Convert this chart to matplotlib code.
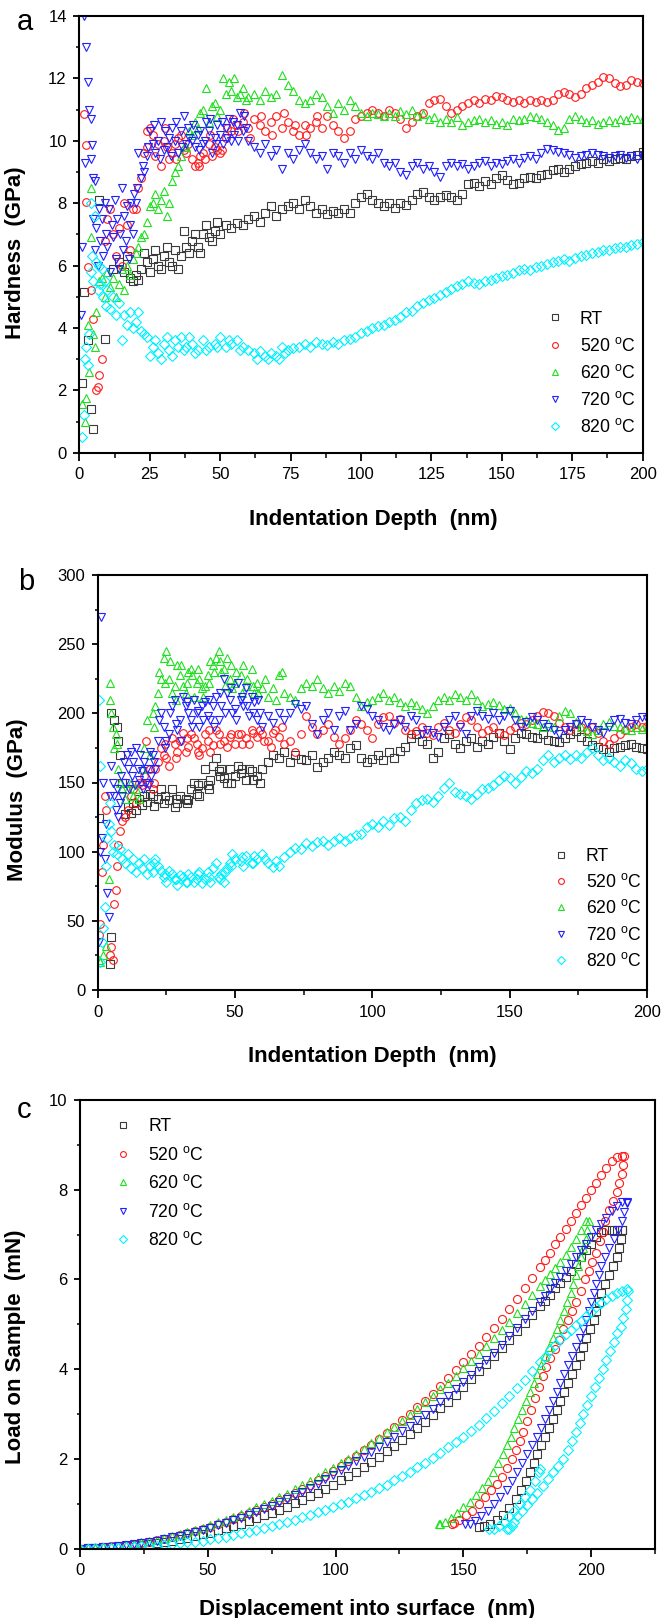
import matplotlib
matplotlib.use('Agg')
import matplotlib.pyplot as plt
from matplotlib.ticker import MultipleLocator

plt.rcParams['font.family'] = ['Liberation Sans', 'DejaVu Sans']
plt.rcParams['mathtext.fontset'] = 'custom'
plt.rcParams['mathtext.rm'] = 'Liberation Sans'
plt.rcParams['mathtext.it'] = 'Liberation Sans:italic'
plt.rcParams['mathtext.bf'] = 'Liberation Sans:bold'

# ---------------- series ----------------
labels = ['RT', '520 $^{\\mathrm{o}}$C', '620 $^{\\mathrm{o}}$C', '720 $^{\\mathrm{o}}$C', '820 $^{\\mathrm{o}}$C']
colors = ['#3a3a3a', '#ff1a1a', '#1ee01e', '#2020ff', '#00f0ff']
markers = ['s', 'o', '^', 'v', 'D']

# ---------------- panel a : hardness ----------------
depth_grid = [20, 22, 24, 26, 28, 30, 32, 34, 36, 38,
              40, 42, 44, 46, 48, 50, 52, 54, 56, 58,
              60, 62, 64, 66, 68, 70, 72, 74, 76, 78,
              80, 82, 84, 86, 88, 90, 92, 94, 96, 98,
              100, 102, 104, 106, 108, 110, 112, 114, 116, 118,
              120, 122, 124, 126, 128, 130, 132, 134, 136, 138,
              140, 142, 144, 146, 148, 150, 152, 154, 156, 158,
              160, 162, 164, 166, 168, 170, 172, 174, 176, 178,
              180, 182, 184, 186, 188, 190, 192, 194, 196, 198,
              200]

hard_rt = [5.7, 5.9, 6.1, 6.2, 6.0, 6.3, 6.1, 6.5, 6.3, 6.6,
           6.8, 6.6, 7.0, 6.9, 7.1, 7.0, 7.3, 7.2, 7.35, 7.3,
           7.5, 7.6, 7.4, 7.7, 7.9, 7.6, 7.8, 7.9, 8.0, 7.8,
           8.1, 7.9, 7.7, 7.8, 7.65, 7.75, 7.7, 7.8, 7.7, 8.0,
           8.2, 8.3, 8.1, 8.0, 7.9, 8.0, 7.85, 8.0, 7.95, 8.1,
           8.3, 8.35, 8.2, 8.1, 8.2, 8.25, 8.2, 8.1, 8.3, 8.6,
           8.65, 8.55, 8.7, 8.6, 8.8, 8.9, 8.75, 8.6, 8.65, 8.8,
           8.85, 8.8, 8.9, 8.95, 9.05, 9.1, 9.0, 9.1, 9.2, 9.25,
           9.3, 9.35, 9.3, 9.4, 9.35, 9.4, 9.45, 9.4, 9.5, 9.55,
           9.65]
hard_520 = [7.8, 8.8, 9.8, 10.2, 9.9, 10.0, 9.4, 9.9, 10.2, 9.6,
            9.4, 9.3, 9.6, 9.9, 9.8, 9.6, 10.1, 10.3, 10.5, 10.6,
            10.4, 10.7, 10.5, 10.3, 10.6, 10.8, 10.4, 10.6, 10.3, 10.2,
            10.5, 10.4, 10.6, 10.4, 10.8, 10.5, 10.3, 10.1, 10.3, 10.7,
            10.8, 10.9, 11.0, 10.9, 10.8, 11.0, 10.9, 10.7, 10.4, 10.6,
            10.8, 10.9, 11.2, 11.3, 11.35, 11.1, 10.9, 11.0, 11.1, 11.2,
            11.3, 11.2, 11.35, 11.3, 11.45, 11.4, 11.3, 11.25, 11.3, 11.2,
            11.3, 11.25, 11.3, 11.25, 11.3, 11.5, 11.55, 11.5, 11.4, 11.5,
            11.7, 11.8, 11.9, 12.05, 12.0, 11.85, 11.75, 11.8, 11.95, 11.9,
            11.85]
hard_620 = [6.4, 6.9, 7.4, 8.0, 7.8, 8.4, 8.0, 9.0, 9.5, 9.8,
            10.2, 10.4, 11.0, 10.6, 11.2, 11.0, 11.5, 11.6, 11.4, 11.7,
            11.4, 11.5, 11.3, 11.6, 11.4, 11.5, 12.1, 11.8, 11.6, 11.3,
            11.2, 11.3, 11.5, 11.4, 11.1, 10.9, 11.2, 11.0, 11.3, 11.1,
            10.9, 10.8, 10.9, 10.85, 10.8, 10.9, 10.8, 10.95, 10.85, 11.0,
            10.8, 10.85, 10.7, 10.75, 10.6, 10.7, 10.6, 10.75, 10.5, 10.6,
            10.65, 10.7, 10.6, 10.65, 10.55, 10.6, 10.5, 10.7, 10.65, 10.7,
            10.8, 10.75, 10.7, 10.6, 10.5, 10.35, 10.4, 10.7, 10.8, 10.7,
            10.6, 10.65, 10.55, 10.6, 10.65, 10.6, 10.7, 10.65, 10.75, 10.7,
            10.7]
hard_720 = [8.0, 8.8, 9.5, 9.9, 10.0, 9.7, 10.1, 10.0, 10.3, 9.9,
            10.0, 10.2, 9.9, 10.3, 10.1, 10.2, 10.4, 10.0, 10.5, 10.3,
            10.0, 9.8, 9.6, 9.9, 9.5, 9.7, 9.1, 9.6, 9.4, 9.7,
            9.9, 9.6, 9.4, 9.5, 9.1, 9.6, 9.5, 9.3, 9.6, 9.4,
            9.7, 9.5, 9.4, 9.6, 9.3, 9.2, 9.3, 9.0, 8.9, 9.2,
            9.3, 9.1, 9.2, 9.0, 8.85, 9.2, 9.3, 9.2, 9.25, 9.1,
            9.2, 9.3, 9.35, 9.2, 9.3, 9.25, 9.35, 9.4, 9.3, 9.45,
            9.5, 9.4, 9.6, 9.75, 9.7, 9.65, 9.6, 9.55, 9.45, 9.5,
            9.55, 9.6, 9.55, 9.5, 9.45, 9.5, 9.55, 9.45, 9.5, 9.4,
            9.5]
hard_820 = [4.2, 3.9, 3.7, 3.4, 3.2, 3.5, 3.3, 3.6, 3.7, 3.4,
            3.5, 3.3, 3.6, 3.4, 3.5, 3.7, 3.4, 3.5, 3.6, 3.4,
            3.3, 3.2, 3.25, 3.1, 3.2, 3.1, 3.4, 3.3, 3.35, 3.4,
            3.5, 3.4, 3.55, 3.5, 3.45, 3.55, 3.5, 3.6, 3.65, 3.7,
            3.85, 3.9, 4.0, 4.05, 4.1, 4.2, 4.25, 4.35, 4.5, 4.55,
            4.7, 4.8, 4.9, 4.95, 5.05, 5.15, 5.25, 5.35, 5.4, 5.5,
            5.45, 5.4, 5.5, 5.55, 5.6, 5.65, 5.7, 5.75, 5.85, 5.9,
            5.85, 5.95, 6.0, 6.05, 6.1, 6.15, 6.2, 6.15, 6.25, 6.3,
            6.35, 6.4, 6.45, 6.5, 6.5, 6.55, 6.6, 6.6, 6.65, 6.7,
            6.75]

# shallow-depth / extra scattered points (depth, hardness)
hard_rt_extra = [(1, 2.25), (1.5, 5.15), (3, 3.6), (4, 1.4), (5, 0.75), (7, 8.1), (9, 3.65),
                 (12, 5.9), (14, 6.1), (16, 5.8), (17, 6.3), (18, 5.6), (19, 5.5),
                 (21, 5.55), (23, 6.4), (25, 5.8), (27, 6.5), (29, 5.9), (31, 6.6), (33, 6.0),
                 (35, 5.9), (37, 7.1), (39, 6.4), (41, 7.0), (43, 6.4), (45, 7.3), (47, 6.8), (49, 7.4)]
hard_520_extra = [(1.5, 10.85), (2.5, 9.85), (2.5, 8.05), (3, 5.95), (4, 5.2), (5, 4.3), (6, 2.0),
                  (6.5, 2.1), (7, 2.5), (8, 3.0), (9, 6.8), (10, 7.5), (11, 7.8), (12, 7.0),
                  (13, 6.3), (14, 7.2), (15, 6.0), (16, 8.0), (17, 7.3), (18, 6.5), (19, 7.8),
                  (21, 8.5), (23, 9.6), (24, 10.3), (25, 10.4), (27, 9.5), (29, 9.2), (31, 9.8),
                  (33, 9.6), (35, 10.1), (37, 9.7), (41, 9.2), (43, 9.5), (47, 9.5), (49, 9.7),
                  (30.5, 10.4), (34.5, 9.4), (38.5, 9.9), (42.5, 9.2), (44.5, 9.4), (46.5, 10.2),
                  (50.5, 9.7), (52.5, 10.4), (54.5, 10.7), (56.5, 10.3), (58.5, 10.9), (60.5, 10.1),
                  (64.5, 10.8), (68.5, 10.2), (72.5, 10.9), (76.5, 10.5), (80.5, 10.2), (84.5, 10.8)]
hard_620_extra = [(1, 1.55), (2, 1.0), (2.5, 1.75), (3, 4.1), (3.5, 2.6), (4, 6.9), (4, 8.5),
                  (5, 3.8), (5.5, 3.4), (6, 4.5), (7, 5.5), (8, 5.6), (9, 5.0), (10, 5.8),
                  (11, 5.3), (12, 5.6), (13, 5.0), (14, 5.4), (15, 5.9), (16, 5.2), (17, 6.0),
                  (18, 5.7), (19, 6.2), (21, 6.6), (23, 7.0), (25, 7.9), (27, 8.3), (29, 8.1),
                  (31, 7.6), (33, 8.7), (35, 9.2), (37, 9.8), (39, 10.3), (41, 10.6), (43, 10.9),
                  (45, 11.7), (47, 11.1), (49, 10.8), (51, 12.0), (53, 11.9), (55, 12.0),
                  (57, 11.5), (59, 11.3)]
hard_720_extra = [(0.5, 4.4), (1, 6.6), (1.5, 14.0), (2, 9.3), (2.5, 13.0), (3, 11.9), (3.5, 11.0),
                  (4, 9.4), (4, 10.7), (4.5, 9.85), (5, 8.8), (5.5, 8.7), (5, 7.5), (5.5, 6.5),
                  (6, 7.2), (6.5, 6.0), (7, 7.8), (7.5, 6.8), (8, 7.5), (8.5, 6.3), (9, 8.0),
                  (9.5, 7.0), (10, 6.6), (10.5, 7.8), (11, 5.8), (11.5, 7.3), (12, 6.9),
                  (12.5, 8.1), (13, 6.2), (13.5, 7.5), (14, 5.9), (14.5, 7.0), (15, 8.5),
                  (15.5, 6.5), (16, 7.6), (16.5, 6.8), (17, 7.9), (17.5, 6.2), (18, 7.3),
                  (18.5, 8.0), (19, 7.0), (19.5, 8.3), (21, 9.6), (23, 9.0), (25, 10.3),
                  (27, 9.6), (29, 10.6), (31, 9.8), (33, 10.4), (35, 9.6), (37, 10.8), (39, 10.1),
                  (41, 9.8), (43, 10.3), (45, 10.6), (47, 9.6), (49, 10.5), (51, 9.9), (53, 10.7),
                  (55, 10.2), (57, 10.9), (59, 10.4),
                  (20.5, 8.5), (22.5, 9.2), (24.5, 9.8), (26.5, 10.5), (28.5, 9.4), (30.5, 10.3),
                  (32.5, 9.5), (34.5, 10.6), (36.5, 9.8), (38.5, 10.4), (40.5, 10.5), (42.5, 9.7),
                  (44.5, 10.0), (46.5, 10.7), (48.5, 9.9), (50.5, 10.6), (52.5, 10.1), (54.5, 10.6),
                  (56.5, 10.0), (58.5, 10.8)]
hard_820_extra = [(1, 0.5), (1.5, 1.2), (2, 3.0), (2.5, 3.4), (3, 2.8), (3.5, 3.8), (4, 5.8),
                  (4, 8.0), (4.5, 6.3), (5, 5.5), (5.5, 7.6), (6, 6.1), (6.5, 5.2), (7, 6.0),
                  (7.5, 5.4), (8, 5.9), (8.5, 5.0), (9, 5.5), (9.5, 4.7), (10, 5.2), (11, 4.6),
                  (12, 5.0), (13, 4.4), (14, 4.8), (15, 3.6), (16, 4.4), (17, 4.1), (18, 4.5),
                  (19, 4.0), (21, 4.5), (23, 3.8), (25, 3.1), (27, 3.6), (29, 3.0), (31, 3.7),
                  (33, 3.1), (35, 3.4), (37, 3.3), (39, 3.7), (41, 3.2), (45, 3.3), (49, 3.4),
                  (53, 3.6), (57, 3.3), (63, 3.0), (67, 3.0), (71, 3.0), (73, 3.2)]

# ---------------- panel b : modulus ----------------
mod_rt = [140, 138, 135, 137, 132, 140, 138, 145, 142, 150,
          148, 162, 158, 153, 160, 155, 157, 152, 158, 155,
          160, 165, 170, 168, 172, 165, 170, 167, 166, 170,
          161, 165, 168, 172, 170, 168, 175, 177, 168, 165,
          167, 170, 166, 172, 168, 173, 176, 182, 185, 180,
          178, 168, 172, 182, 185, 178, 175, 180, 182, 176,
          180, 178, 183, 186, 180, 174, 182, 186, 185, 183,
          182, 185, 181, 180, 179, 182, 185, 187, 183, 180,
          177, 176, 174, 172, 175, 176, 177, 178, 176, 175,
          174]
mod_520 = [145, 165, 170, 162, 178, 180, 172, 185, 178, 175,
           180, 177, 185, 180, 183, 178, 185, 182, 188, 183,
           185, 180, 186, 183, 178, 180, 172, 185, 198, 190,
           185, 188, 192, 183, 178, 182, 188, 195, 192, 188,
           182, 192, 197, 198, 193, 196, 188, 185, 187, 190,
           186, 184, 190, 193, 188, 186, 192, 197, 195, 190,
           186, 188, 190, 186, 184, 188, 190, 193, 192, 195,
           198, 201, 200, 198, 193, 190, 188, 192, 190, 188,
           190, 186, 180, 178, 182, 185, 188, 190, 192, 190,
           191]
mod_620 = [200, 215, 240, 225, 220, 228, 215, 232, 222, 218,
           228, 235, 245, 232, 225, 222, 228, 220, 232, 222,
           218, 212, 218, 228, 215, 212, 210, 218, 222, 220,
           225, 218, 215, 220, 216, 222, 220, 212, 205, 208,
           210, 212, 215, 210, 212, 208, 205, 208, 206, 203,
           200, 205, 210, 212, 210, 214, 212, 210, 214, 210,
           205, 207, 208, 206, 203, 204, 200, 196, 195, 193,
           192, 190, 193, 190, 198, 202, 200, 194, 190, 187,
           185, 188, 192, 194, 191, 190, 189, 188, 190, 189,
           190]
mod_720 = [170, 180, 190, 185, 210, 195, 205, 195, 200, 205,
           198, 205, 195, 225, 210, 203, 210, 218, 212, 195,
           190, 198, 193, 200, 195, 200, 207, 203, 205, 192,
           185, 195, 200, 188, 198, 202, 188, 192, 205, 203,
           198, 195, 190, 188, 192, 195, 190, 198, 195, 185,
           188, 186, 183, 190, 195, 198, 190, 185, 198, 202,
           198, 196, 200, 195, 198, 202, 195, 190, 194, 197,
           195, 192, 190, 188, 185, 188, 190, 192, 195, 193,
           190, 188, 186, 190, 195, 196, 193, 192, 195, 197,
           196]
mod_820 = [85, 90, 82, 86, 80, 83, 78, 82, 80, 77,
           85, 88, 82, 78, 92, 95, 93, 97, 92, 95,
           98, 92, 89, 90, 96, 100, 103, 102, 106, 104,
           107, 108, 105, 108, 110, 108, 110, 112, 113, 118,
           120, 118, 122, 119, 124, 125, 122, 130, 135, 137,
           138, 136, 140, 146, 150, 143, 142, 140, 138, 142,
           145, 146, 148, 152, 155, 153, 150, 154, 158, 157,
           160, 166, 170, 165, 168, 170, 167, 170, 168, 172,
           175, 170, 166, 168, 165, 162, 166, 164, 160, 158,
           160]

mod_rt_extra = [(0.5, 124), (4.5, 19), (5, 38), (5, 200), (6, 195), (7, 190), (7.5, 180), (8, 170),
                (9, 150), (10, 127), (11, 132), (12, 128), (13, 135), (14, 130), (15, 138),
                (16, 134), (17, 140), (18, 136), (19, 142), (23, 145), (27, 145), (29, 135),
                (33, 137), (35, 150), (37, 140), (39, 160), (41, 152), (43, 168), (45, 160),
                (47, 150), (51, 162), (55, 160), (59, 150),
                (20.5, 133), (24.5, 140), (28.5, 138), (32.5, 135), (36.5, 148), (40.5, 145),
                (44.5, 155), (48.5, 150), (52.5, 160), (56.5, 152)]
mod_520_extra = [(0.5, 40), (1, 48), (1.5, 85), (2, 105), (2.5, 140), (3, 130), (4.5, 25), (5, 31),
                 (5.5, 22), (6, 62), (6.5, 72), (7, 90), (7.5, 105), (8, 115), (9, 122), (10, 125),
                 (11, 130), (12, 140), (13, 145), (14, 135), (15, 150), (16, 148), (17, 155),
                 (17.5, 180), (18, 150), (19, 160), (21, 160), (23, 175), (25, 168), (27, 182),
                 (29, 172), (31, 186), (33, 176), (35, 182), (37, 170), (39, 185), (41, 172),
                 (43, 188), (47, 176), (51, 185), (55, 178), (59, 188), (63, 176), (67, 190),
                 (20.5, 150), (24.5, 178), (28.5, 168), (32.5, 182), (36.5, 172), (40.5, 188),
                 (44.5, 178), (48.5, 185), (52.5, 178), (56.5, 186), (60.5, 180), (64.5, 188)]
mod_620_extra = [(0.5, 22), (1, 20), (2, 25), (3, 32), (4, 80), (4.3, 210), (4.6, 222), (5, 200),
                 (5.5, 190), (6, 175), (6.5, 185), (7, 178), (7.5, 160), (8, 150), (9, 145),
                 (10, 138), (11, 145), (12, 150), (13, 140), (14, 145), (15, 138), (16, 160),
                 (17, 175), (18, 195), (19, 170), (21, 205), (23, 225), (25, 245), (27, 215),
                 (29, 235), (31, 220), (33, 230), (35, 212), (37, 225), (39, 220), (41, 238),
                 (43, 240), (45, 230), (47, 240), (49, 218), (53, 235), (57, 215), (61, 225),
                 (65, 210), (67, 230),
                 (20.5, 190), (22.5, 230), (24.5, 222), (26.5, 238), (28.5, 210), (30.5, 235),
                 (32.5, 222), (34.5, 228), (36.5, 232), (38.5, 212), (40.5, 222), (42.5, 230),
                 (44.5, 238), (46.5, 220), (48.5, 235), (50.5, 230), (52.5, 215), (54.5, 225),
                 (56.5, 220), (58.5, 215)]
mod_720_extra = [(0.5, 35), (1, 100), (1.2, 270), (1.5, 110), (2, 150), (2.5, 95), (3, 120),
                 (3.5, 70), (4, 53), (4.5, 140), (5, 162), (5.5, 150), (6, 140), (6.5, 130),
                 (7, 145), (7.5, 125), (8, 135), (8.5, 155), (9, 140), (9.5, 165), (10, 150),
                 (10.5, 170), (11, 160), (11.5, 145), (12, 172), (12.5, 155), (13, 165),
                 (13.5, 148), (14, 175), (14.5, 160), (15, 152), (15.5, 170), (16, 158),
                 (16.5, 145), (17, 165), (17.5, 150), (18, 160), (18.5, 148), (19, 172),
                 (19.5, 155), (21, 160), (23, 200), (25, 180), (27, 205), (29, 188), (31, 212),
                 (33, 200), (35, 210), (37, 190), (39, 208), (41, 195), (43, 212), (45, 205),
                 (47, 215), (49, 200), (51, 222), (53, 205), (55, 198), (57, 208), (59, 200),
                 (20.5, 165), (22.5, 195), (24.5, 175), (26.5, 200), (28.5, 192), (30.5, 180),
                 (32.5, 208), (34.5, 190), (36.5, 202), (38.5, 195), (40.5, 210), (42.5, 190),
                 (44.5, 215), (46.5, 200), (48.5, 218), (50.5, 195), (52.5, 212), (54.5, 205),
                 (56.5, 200), (58.5, 210)]
mod_820_extra = [(0.5, 210), (0.7, 162), (1, 20), (1.5, 35), (2, 45), (2.5, 60), (3, 90),
                 (3.5, 110), (4, 120), (4.5, 135), (5, 115), (5.5, 100), (6, 105), (7, 98),
                 (8, 102), (9, 95), (10, 92), (11, 98), (12, 88), (13, 95), (14, 85), (15, 92),
                 (16, 88), (17, 95), (18, 84), (19, 90), (21, 95), (23, 86), (25, 78), (27, 84),
                 (29, 76), (31, 82), (33, 84), (35, 78), (37, 85), (39, 80), (41, 78), (43, 92),
                 (45, 84), (47, 88), (49, 98), (53, 90), (57, 97), (61, 95), (65, 93),
                 (20.5, 92), (24.5, 84), (28.5, 80), (32.5, 78), (36.5, 84), (40.5, 82),
                 (44.5, 80), (46.5, 85), (48.5, 90), (52.5, 96), (56.5, 92)]

# ---------------- panel c : load-displacement ----------------
load_depth = [0, 3, 6, 9, 12, 15, 18, 21, 24, 27,
              30, 33, 36, 39, 42, 45, 48, 51, 54, 57,
              60, 63, 66, 69, 72, 75, 78, 81, 84, 87,
              90, 93, 96, 99, 102, 105, 108, 111, 114, 117,
              120, 123, 126, 129, 132, 135, 138, 141, 144, 147,
              150, 153, 156, 159, 162, 165, 168, 171, 174, 177,
              180, 182, 184, 186, 188, 190, 192, 194, 196, 198,
              200, 202, 204, 206, 208, 210, 212, 214]

load_rt = [0.0, 0.01, 0.02, 0.03, 0.04, 0.05, 0.06, 0.08, 0.09, 0.11,
           0.13, 0.15, 0.18, 0.21, 0.24, 0.28, 0.32, 0.36, 0.41, 0.46,
           0.51, 0.56, 0.62, 0.68, 0.74, 0.8, 0.87, 0.94, 1.01, 1.09,
           1.17, 1.25, 1.34, 1.43, 1.52, 1.62, 1.72, 1.83, 1.94, 2.05,
           2.17, 2.29, 2.42, 2.55, 2.69, 2.83, 2.98, 3.13, 3.27, 3.42,
           3.6, 3.78, 3.95, 4.12, 4.3, 4.48, 4.66, 4.85, 5.03, 5.2,
           5.4, 5.52, 5.65, 5.8, 5.92, 6.05, 6.2, 6.35, 6.5, 6.65,
           6.8, 6.95, 7.05, 7.1, 7.1, 7.1, 7.1]
load_520 = [0.0, 0.01, 0.02, 0.03, 0.05, 0.06, 0.08, 0.1, 0.13, 0.16,
            0.19, 0.22, 0.26, 0.3, 0.34, 0.39, 0.44, 0.49, 0.54, 0.6,
            0.66, 0.72, 0.79, 0.86, 0.93, 1.0, 1.08, 1.16, 1.25, 1.34,
            1.43, 1.53, 1.63, 1.73, 1.84, 1.95, 2.07, 2.19, 2.32, 2.45,
            2.58, 2.72, 2.86, 3.0, 3.15, 3.3, 3.45, 3.62, 3.8, 3.98,
            4.15, 4.33, 4.52, 4.72, 4.92, 5.13, 5.35, 5.57, 5.8, 6.03,
            6.27, 6.43, 6.6, 6.78, 6.95, 7.12, 7.3, 7.48, 7.65, 7.82,
            8.0, 8.16, 8.32, 8.48, 8.63, 8.73, 8.75]
load_620 = [0.0, 0.01, 0.02, 0.03, 0.05, 0.07, 0.09, 0.11, 0.14, 0.17,
            0.2, 0.24, 0.28, 0.32, 0.37, 0.42, 0.47, 0.53, 0.59, 0.65,
            0.71, 0.78, 0.85, 0.92, 0.99, 1.07, 1.15, 1.23, 1.32, 1.41,
            1.5, 1.6, 1.7, 1.8, 1.9, 2.01, 2.12, 2.23, 2.35, 2.47,
            2.59, 2.72, 2.85, 2.98, 3.12, 3.26, 3.4, 3.55, 3.7, 3.86,
            4.02, 4.18, 4.35, 4.52, 4.7, 4.88, 5.06, 5.25, 5.45, 5.65,
            5.85, 5.98, 6.12, 6.26, 6.4, 6.55, 6.72, 6.9, 7.1, 7.3]
load_720 = [0.0, 0.01, 0.02, 0.03, 0.04, 0.06, 0.08, 0.1, 0.12, 0.15,
            0.18, 0.21, 0.25, 0.29, 0.33, 0.37, 0.42, 0.47, 0.52, 0.57,
            0.63, 0.69, 0.75, 0.82, 0.89, 0.96, 1.03, 1.11, 1.19, 1.27,
            1.36, 1.45, 1.55, 1.65, 1.75, 1.85, 1.95, 2.05, 2.16, 2.27,
            2.38, 2.5, 2.62, 2.74, 2.86, 2.99, 3.12, 3.26, 3.41, 3.56,
            3.72, 3.88, 4.04, 4.2, 4.37, 4.55, 4.73, 4.92, 5.11, 5.3,
            5.5, 5.64, 5.78, 5.92, 6.06, 6.2, 6.35, 6.5, 6.65, 6.8,
            6.95, 7.1, 7.24, 7.38, 7.52, 7.64, 7.72, 7.72]
load_820 = [0.0, 0.0, 0.01, 0.01, 0.02, 0.02, 0.03, 0.04, 0.05, 0.06,
            0.07, 0.08, 0.1, 0.12, 0.14, 0.16, 0.18, 0.21, 0.24, 0.27,
            0.3, 0.34, 0.38, 0.42, 0.46, 0.5, 0.55, 0.6, 0.65, 0.7,
            0.75, 0.81, 0.87, 0.93, 0.99, 1.05, 1.12, 1.19, 1.27, 1.35,
            1.43, 1.52, 1.61, 1.71, 1.81, 1.92, 2.03, 2.14, 2.26, 2.38,
            2.5, 2.62, 2.76, 2.92, 3.08, 3.24, 3.4, 3.58, 3.76, 3.95,
            4.15, 4.28, 4.42, 4.55, 4.67, 4.78, 4.88, 4.98, 5.08, 5.18,
            5.28, 5.38, 5.47, 5.56, 5.64, 5.7, 5.75, 5.78]

unload_rt_x = [212, 211.5, 211, 210, 208.5, 207, 205.5, 204, 203, 202, 201, 199.5, 198, 197, 195.5,
               194, 192.5, 191, 189.5, 188, 186.5, 185, 183.5, 182, 180.5, 179, 177.5, 176, 174.5,
               172.5, 170.5, 168, 165.5, 163, 160.5, 158, 156]
unload_rt_y = [7.1, 6.9, 6.7, 6.5, 6.3, 6.1, 5.9, 5.7, 5.5, 5.3, 5.1, 4.9, 4.7, 4.5, 4.3,
               4.1, 3.9, 3.7, 3.5, 3.3, 3.1, 2.9, 2.7, 2.5, 2.3, 2.1, 1.9, 1.7, 1.5,
               1.3, 1.1, 0.9, 0.75, 0.65, 0.55, 0.5, 0.48]
unload_520_x = [213, 212.5, 212, 211, 210, 208.5, 207, 205.5, 204.5, 203.5, 202, 200.5, 199, 197.5,
                196, 194, 192.5, 191, 189, 187.5, 186, 184, 182.5, 181, 179.5, 178, 176.5, 175,
                173.5, 172, 170.5, 169, 167, 165, 163, 161, 158.5, 156, 153.5, 151, 148.5, 146.5,
                145.5]
unload_520_y = [8.75, 8.55, 8.35, 8.15, 7.95, 7.75, 7.55, 7.3, 7.05, 6.85, 6.6, 6.4, 6.2, 6.0,
                5.75, 5.5, 5.3, 5.1, 4.9, 4.65, 4.45, 4.25, 4.05, 3.85, 3.6, 3.35, 3.1, 2.85,
                2.6, 2.4, 2.2, 2.0, 1.8, 1.6, 1.45, 1.3, 1.15, 1.0, 0.85, 0.75, 0.65, 0.58,
                0.55]
unload_620_x = [199, 198.5, 198, 197, 196, 195, 194, 193, 192, 190.5, 189.5, 188, 186.5, 185,
                183.5, 182, 180.5, 179, 177.5, 176, 174.5, 173, 171.5, 170, 168.5, 167, 165.5,
                163.5, 161.5, 159.5, 157.5, 155, 152.5, 150, 147.5, 145, 143, 141, 140.5]
unload_620_y = [7.3, 7.1, 6.9, 6.7, 6.5, 6.3, 6.1, 5.9, 5.7, 5.5, 5.3, 5.1, 4.9, 4.7,
                4.5, 4.3, 4.1, 3.9, 3.7, 3.5, 3.3, 3.1, 2.9, 2.7, 2.5, 2.3, 2.1,
                1.9, 1.7, 1.5, 1.35, 1.2, 1.05, 0.92, 0.8, 0.68, 0.6, 0.55, 0.55]
unload_720_x = [214, 213, 212, 210.5, 209, 207, 205.5, 204, 203, 202, 201, 200, 199, 198, 197,
                195.5, 194, 192.5, 191, 189.5, 188, 186.5, 185, 183.5, 182, 180.5, 179, 177, 175,
                173, 171, 169, 167, 164.5, 162, 159.5, 157, 154.5, 152.5, 150.5]
unload_720_y = [7.7, 7.5, 7.3, 7.1, 6.9, 6.7, 6.5, 6.3, 6.1, 5.9, 5.7, 5.5, 5.3, 5.1, 4.9,
                4.7, 4.5, 4.3, 4.1, 3.9, 3.7, 3.5, 3.3, 3.1, 2.9, 2.7, 2.5, 2.3, 2.1,
                1.9, 1.7, 1.5, 1.3, 1.15, 1.0, 0.85, 0.72, 0.62, 0.56, 0.55]
unload_820_x = [214.5, 214, 213.5, 212.5, 211.5, 210, 209, 207.5, 206, 204.5, 203, 201.5, 200,
                198.5, 197, 195.5, 194, 192.5, 191, 189, 187, 185, 183, 181, 179, 177, 175, 173,
                171, 170, 169, 168, 167,
                160, 162, 164, 166, 168, 170, 172, 174, 176, 178, 179.5, 180]
unload_820_y = [5.75, 5.55, 5.35, 5.15, 4.95, 4.8, 4.6, 4.4, 4.2, 4.0, 3.8, 3.6, 3.4,
                3.2, 3.0, 2.8, 2.6, 2.4, 2.2, 2.0, 1.85, 1.7, 1.55, 1.4, 1.25, 1.1, 0.98, 0.85,
                0.72, 0.6, 0.5, 0.45, 0.43,
                0.45, 0.45, 0.5, 0.6, 0.72, 0.85, 1.0, 1.15, 1.3, 1.5, 1.7, 1.78]

# ---------------- drawing ----------------
W, H = 671, 1618
fig = plt.figure(figsize=(W / 100, H / 100), dpi=100)


def px_axes(l, t, r, b):
    return fig.add_axes([l / W, 1 - b / H, (r - l) / W, (b - t) / H])


def scatter(ax, x, y, i, ms=5.5):
    n = min(len(x), len(y))
    ax.plot(x[:n], y[:n], linestyle='none', marker=markers[i], ms=ms if markers[i] != 'D' else ms * 0.85,
            mfc='none', mec=colors[i], mew=0.8, label=None)


def style(ax, xlabel, ylabel, xmaj, xmin, ymaj, ymin, xlim, ylim):
    ax.set_xlim(*xlim)
    ax.set_ylim(*ylim)
    ax.xaxis.set_major_locator(MultipleLocator(xmaj))
    ax.xaxis.set_minor_locator(MultipleLocator(xmin))
    ax.yaxis.set_major_locator(MultipleLocator(ymaj))
    ax.yaxis.set_minor_locator(MultipleLocator(ymin))
    for s in ax.spines.values():
        s.set_linewidth(1.5)
    ax.tick_params(axis='x', which='major', direction='out', length=6, width=1.3, labelsize=12,
                   pad=4.5, top=False)
    ax.tick_params(axis='x', which='minor', direction='out', length=3.3, width=1.1, top=False)
    ax.tick_params(axis='y', which='major', direction='out', length=4, width=1.3, labelsize=12,
                   pad=5, right=False)
    ax.tick_params(axis='y', which='minor', direction='out', length=2.4, width=1.1, right=False)
    ax.set_xlabel(xlabel, fontsize=16, fontweight='bold')
    ax.set_ylabel(ylabel, fontsize=16, fontweight='bold')


def add_legend(ax, anchor, spacing):
    handles = [plt.Line2D([], [], linestyle='none', marker=markers[i], ms=4.2 if markers[i] != 'D' else 3.8,
                          mfc='none', mec=colors[i], mew=0.8) for i in range(5)]
    ax.legend(handles, labels, loc='center left', bbox_to_anchor=anchor, frameon=False,
              fontsize=12.7, handlelength=1.0, handletextpad=0.9, labelspacing=spacing,
              borderpad=0, borderaxespad=0)


# panel a
ax_a = px_axes(79.3, 16, 642.7, 452.7)
hard_main = [hard_rt, hard_520, hard_620, hard_720, hard_820]
hard_extra = [hard_rt_extra, hard_520_extra, hard_620_extra, hard_720_extra, hard_820_extra]
for i in range(5):
    scatter(ax_a, depth_grid, hard_main[i], i)
    ex, ey = zip(*hard_extra[i])
    scatter(ax_a, list(ex), list(ey), i)
style(ax_a, 'Indentation Depth  (nm)', 'Hardness  (GPa)', 25, 12.5, 2, 1, (0, 200), (0, 14))
ax_a.xaxis.set_label_coords(0.521, -0.13)
ax_a.yaxis.set_label_coords(-0.095, 0.457)
add_legend(ax_a, (0.8287, 0.1817), 0.52)

# panel b
ax_b = px_axes(97.7, 575, 647, 990)
mod_main = [mod_rt, mod_520, mod_620, mod_720, mod_820]
mod_extra = [mod_rt_extra, mod_520_extra, mod_620_extra, mod_720_extra, mod_820_extra]
for i in range(5):
    scatter(ax_b, depth_grid, mod_main[i], i)
    ex, ey = zip(*mod_extra[i])
    scatter(ax_b, list(ex), list(ey), i)
style(ax_b, 'Indentation Depth  (nm)', 'Modulus  (GPa)', 50, 25, 50, 25, (0, 200), (0, 300))
ax_b.xaxis.set_label_coords(0.5, -0.135)
ax_b.yaxis.set_label_coords(-0.126, 0.458)
add_legend(ax_b, (0.8274, 0.1954), 0.47)

# panel c
ax_c = px_axes(80, 1100, 655, 1548.7)
loads = [load_rt, load_520, load_620, load_720, load_820]
unl_x = [unload_rt_x, unload_520_x, unload_620_x, unload_720_x, unload_820_x]
unl_y = [unload_rt_y, unload_520_y, unload_620_y, unload_720_y, unload_820_y]
for i in range(5):
    scatter(ax_c, load_depth, loads[i], i, ms=5.8)
    scatter(ax_c, unl_x[i], unl_y[i], i, ms=5.8)
style(ax_c, 'Displacement into surface  (nm)', 'Load on Sample  (mN)', 50, 25, 2, 1, (0, 225), (0, 10))
ax_c.xaxis.set_label_coords(0.5, -0.112)
ax_c.yaxis.set_label_coords(-0.094, 0.45)
add_legend(ax_c, (0.06, 0.8132), 0.6)

# panel letters
fig.text(25 / W, 1 - 22 / H, 'a', fontsize=21, ha='center', va='center')
fig.text(26 / W, 1 - 582 / H, 'b', fontsize=21, ha='center', va='center')
fig.text(24 / W, 1 - 1110 / H, 'c', fontsize=21, ha='center', va='center')

fig.savefig('out.png', dpi=100)
